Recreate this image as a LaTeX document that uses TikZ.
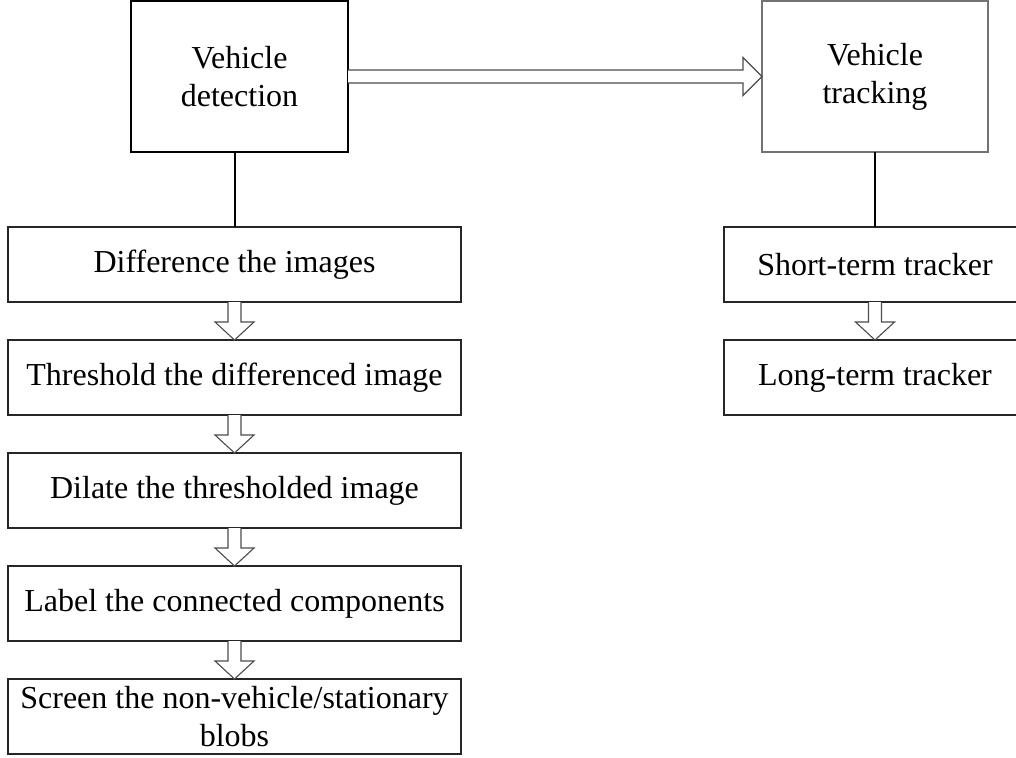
\documentclass[tikz,border=0pt]{standalone}
\usepackage{fontspec}
\setmainfont{Liberation Serif}
\usetikzlibrary{calc}

\tikzset{
  basebox/.style={rectangle, draw=black!85, line width=1.1pt, fill=white,
    inner sep=0pt, outer sep=0pt, align=center,
    font=\fontsize{32}{38}\selectfont},
  stepbox/.style={basebox, minimum width=453pt, minimum height=75pt},
  trackbox/.style={basebox, minimum width=302pt, minimum height=75pt},
  detbox/.style={basebox, draw=black, line width=2pt, minimum width=217pt, minimum height=151pt},
  trkbox/.style={basebox, draw=black!55, line width=1.1pt, minimum width=226pt, minimum height=151pt},
  link/.style={draw=black, line width=2pt},
  blockarrow/.style={draw=black!70, line width=1.1pt, fill=white, line join=miter},
}

% hollow block arrow pointing down, from the bottom of #1 to the top of #2
\newcommand\blockdown[2]{%
  \draw[blockarrow] ($(#1.south)+(-6.5,0)$) -- ($(#2.north)+(-6.5,18)$)
    -- ($(#2.north)+(-19.5,18)$) -- (#2.north) -- ($(#2.north)+(19.5,18)$)
    -- ($(#2.north)+(6.5,18)$) -- ($(#1.south)+(6.5,0)$);}

\begin{document}
\begin{tikzpicture}[x=1pt, y=1pt]
\useasboundingbox (0,0) rectangle (1016,-757);
\fill[white] (0,0) rectangle (1016,-757);
\begin{scope}
\clip (0,0) rectangle (1016,-757);

% top-level stages
\node[detbox] (det) at (239.5,-76.5) {Vehicle\\detection};
\node[trkbox] (trk) at (875,-76.5) {Vehicle\\tracking};

% detection pipeline
\node[stepbox] (diff) at (234.5,-264.5) {Difference the images};
\node[stepbox] (thr)  at (234.5,-377.5) {Threshold the differenced image};
\node[stepbox] (dil)  at (234.5,-490.5) {Dilate the thresholded image};
\node[stepbox] (lab)  at (234.5,-603.5) {Label the connected components};
\node[stepbox] (scr)  at (234.5,-716.5) {Screen the non-vehicle/stationary\\blobs};

% tracking pipeline
\node[trackbox] (st) at (875,-264.5) {Short-term tracker};
\node[trackbox] (lt) at (875,-377.5) {Long-term tracker};

% links from stages to their pipelines
\draw[link] (det.south -| diff.north) -- (diff.north);
\draw[link] (trk.south) -- (st.north);

% hollow arrow from detection to tracking
\draw[blockarrow] ($(det.east)+(0,6.5)$) -- ($(trk.west)+(-19,6.5)$)
  -- ($(trk.west)+(-19,19)$) -- (trk.west) -- ($(trk.west)+(-19,-19)$)
  -- ($(trk.west)+(-19,-6.5)$) -- ($(det.east)+(0,-6.5)$);

% hollow arrows between steps
\blockdown{diff}{thr}
\blockdown{thr}{dil}
\blockdown{dil}{lab}
\blockdown{lab}{scr}
\blockdown{st}{lt}
\end{scope}
\end{tikzpicture}
\end{document}
